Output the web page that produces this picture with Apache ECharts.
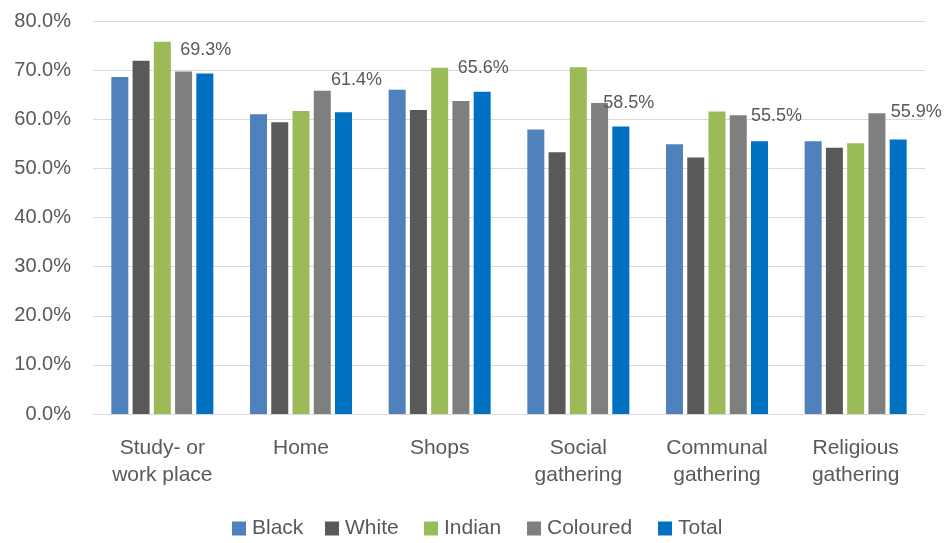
<!DOCTYPE html>
<html>
<head>
<meta charset="utf-8">
<script src="https://cdn.jsdelivr.net/npm/echarts@6/dist/echarts.min.js"></script>
<style>
html,body{margin:0;padding:0;background:#fff;}
#chart{width:947px;height:543px;}
</style>
</head>
<body>
<div id="chart"></div>
<script>
const categories = ['Study- or\nwork place', 'Home', 'Shops', 'Social\ngathering', 'Communal\ngathering', 'Religious\ngathering'];
const seriesNames = ['Black', 'White', 'Indian', 'Coloured', 'Total'];
const black    = [68.6, 61.0, 66.0, 57.9, 54.9, 55.5];
const white    = [71.9, 59.4, 61.9, 53.3, 52.2, 54.2];
const indian   = [75.8, 61.7, 70.5, 70.6, 61.6, 55.1];
const coloured = [69.7, 65.8, 63.7, 63.3, 60.8, 61.2];
const total    = [69.3, 61.4, 65.6, 58.5, 55.5, 55.9];
const yTicks   = [0, 10, 20, 30, 40, 50, 60, 70, 80];
const labelOffsets = [[1,-10],[13,-18],[1,-10],[8,-10],[17,-11],[18,-13]];
const legendLeft = [232, 325, 424, 527, 658];

const FONT = '"Liberation Sans", Arial, sans-serif';
const TXT = '#595959';

const chart = echarts.init(document.getElementById('chart'), null, {renderer: 'canvas'});
function mk(name, data, color, withLabel) {
  return {
    name: name,
    type: 'bar',
    barWidth: 17,
    barGap: '25%',
    itemStyle: {color: color},
    data: data.map((v, i) => {
      const d = {value: v};
      if (withLabel) {
        d.label = {show: true, position: 'top', offset: labelOffsets[i],
          formatter: p => p.value.toFixed(1) + '%',
          color: TXT, fontSize: 18, fontFamily: FONT};
      }
      return d;
    })
  };
}
const legends = seriesNames.map((n, i) => ({
  top: 518, left: legendLeft[i], padding: 0,
  itemWidth: 14, itemHeight: 14, itemGap: 0,
  icon: 'rect',
  textStyle: {fontSize: 21, color: TXT, fontFamily: FONT, padding: [0,0,0,1]},
  data: [n]
}));
chart.setOption({
  animation: false,
  backgroundColor: '#ffffff',
  textStyle: {fontFamily: FONT, color: TXT},
  grid: {left: 93, right: 22, top: 21, bottom: 129, containLabel: false},
  legend: legends,
  xAxis: {
    type: 'category',
    data: categories,
    axisLine: {show: true, lineStyle: {color: '#d9d9d9', width: 1}},
    axisTick: {show: false},
    axisLabel: {color: TXT, fontSize: 21, fontFamily: FONT, lineHeight: 27, margin: 21, interval: 0}
  },
  yAxis: {
    type: 'value',
    min: yTicks[0], max: yTicks[yTicks.length - 1], interval: 10,
    axisLine: {show: false},
    axisTick: {show: false},
    splitLine: {lineStyle: {color: '#d9d9d9', width: 1}},
    axisLabel: {color: TXT, fontSize: 20, fontFamily: FONT, margin: 22,
      formatter: v => v.toFixed(1) + '%'}
  },
  series: [
    mk(seriesNames[0], black, '#4F81BD', false),
    mk(seriesNames[1], white, '#595959', false),
    mk(seriesNames[2], indian, '#9BBB59', false),
    mk(seriesNames[3], coloured, '#7F7F7F', false),
    mk(seriesNames[4], total, '#0070C0', true)
  ]
});
</script>
</body>
</html>
